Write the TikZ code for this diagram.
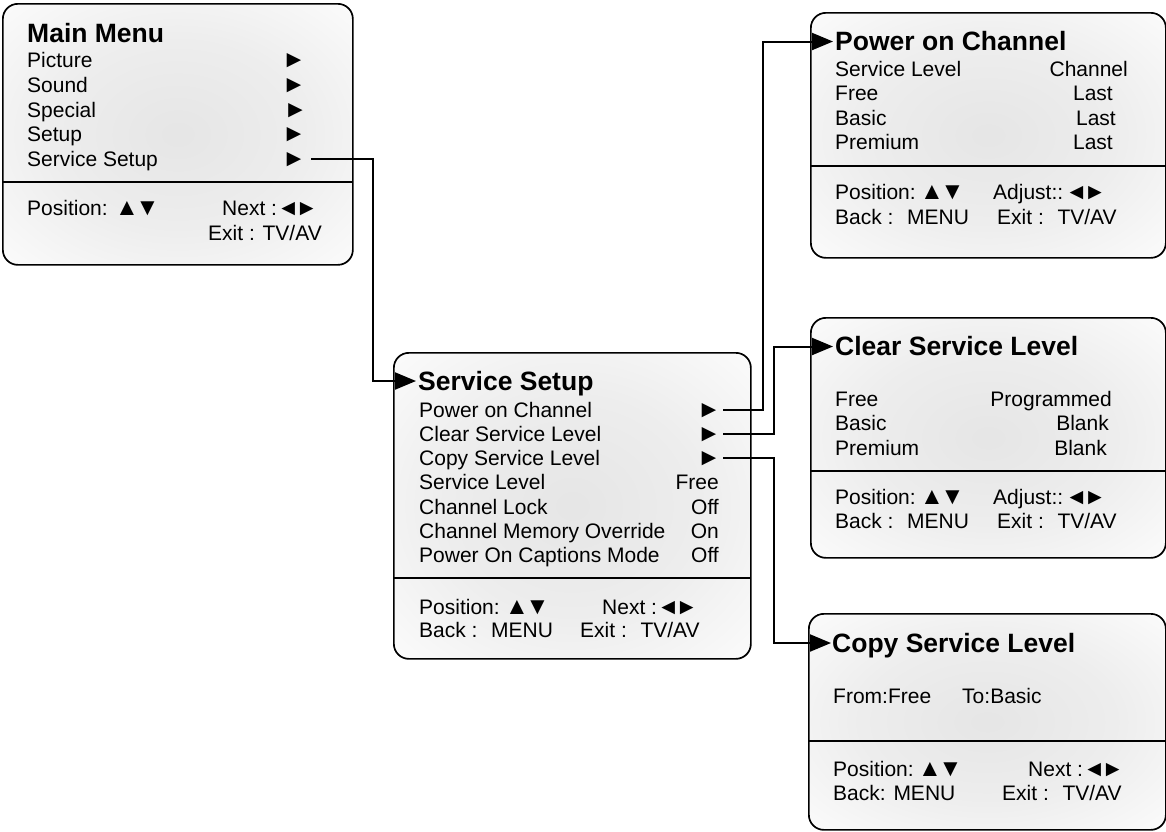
\documentclass[tikz,border=0pt]{standalone}
\usepackage{fontspec}
\setmainfont{Liberation Sans}
\usetikzlibrary{arrows.meta}
\newcommand\mytup{\makebox[20.5pt][c]{\fontsize{24}{24}\selectfont ▲}}
\newcommand\mytdn{\makebox[20.5pt][c]{\fontsize{24}{24}\selectfont ▼}}
\newcommand\mytlf{\makebox[18.5pt][c]{\fontsize{22.5}{24}\selectfont ◄}}
\newcommand\mytrt{\makebox[18.5pt][c]{\fontsize{22.5}{24}\selectfont ►}}
\pgfdeclareradialshading{softglow}{\pgfpoint{0bp}{0bp}}{color(0bp)=(black!10); color(18bp)=(black!7); color(34bp)=(black!2); color(44bp)=(white); color(50bp)=(white)}
\begin{document}
\begin{tikzpicture}[x=1pt,y=-1pt,
 box/.style={draw, line width=1.7pt, rounded corners=15pt, shading=softglow, anchor=north west, inner sep=0},
 sepline/.style={line width=1.7pt},
 txt/.style={font=\fontsize{21}{24}\selectfont, inner sep=0, anchor=base west},
 rtxt/.style={txt, anchor=base east},
 mk/.style={font=\fontsize{24}{24}\selectfont, inner sep=0, anchor=base},
 ttl/.style={font=\fontsize{26.5}{30}\selectfont\bfseries, inner sep=0, anchor=base west},
 conn/.style={line width=2pt, -{Triangle[length=21pt,width=17pt]}}]
\useasboundingbox (0,0) rectangle (1166,831);

% ---------- Main Menu ----------
\node[box, minimum width=350, minimum height=261] (mmbox) at (2,3) {};
\draw[sepline] (2,182) -- (352,182);
\node[ttl] (mmt) at (27,42) {Main Menu};
\node[txt] (mm1) at (27,67.7) {Picture};
\node[txt] (mm2) at (27,92.5) {Sound};
\node[txt] (mm3) at (27,117) {Special};
\node[txt] (mm4) at (27,141.5) {Setup};
\node[txt] (mm5) at (27,166) {Service Setup};
\node[mk] (mma1) at (294,67.7) {►};
\node[mk] (mma2) at (294,92.5) {►};
\node[mk] (mma3) at (295.5,117) {►};
\node[mk] (mma4) at (294,141.5) {►};
\node[mk] (mma5) at (294,166) {►};
\node[txt] (mmf1) at (27,215) {Position:\hspace{9pt}\mytup\mytdn};
\node[txt] (mmf2) at (222,215) {Next :\hspace{2pt}\mytlf\mytrt};
\node[txt] (mmf3) at (208,240) {Exit : TV/AV};

% ---------- Service Setup ----------
\node[box, minimum width=357, minimum height=306] (ssbox) at (393,352) {};
\draw[sepline] (393,578) -- (750,578);
\node[ttl] (sst) at (418,390) {Service Setup};
\node[txt] (ss1) at (419,417) {Power on Channel};
\node[txt] (ss2) at (419,441) {Clear Service Level};
\node[txt] (ss3) at (419,465) {Copy Service Level};
\node[txt] (ss4) at (419,489.5) {Service Level};
\node[txt] (ss5) at (419,514) {Channel Lock};
\node[txt] (ss6) at (419,538) {Channel Memory Override};
\node[txt] (ss7) at (419,562.5) {Power On Captions Mode};
\node[mk] (ssa1) at (709,417) {►};
\node[mk] (ssa2) at (709,441) {►};
\node[mk] (ssa3) at (709,465) {►};
\node[rtxt] (ssv4) at (719,489.5) {Free};
\node[rtxt] (ssv5) at (719,514) {Off};
\node[rtxt] (ssv6) at (719,538) {On};
\node[rtxt] (ssv7) at (719,562.5) {Off};
\node[txt] (ssf1) at (419,614) {Position:\hspace{7pt}\mytup\mytdn};
\node[txt] (ssf2) at (602,614) {Next :\hspace{2pt}\mytlf\mytrt};
\node[txt] (ssf3) at (419,637.5) {Back :~ MENU};
\node[txt] (ssf4) at (580,637.5) {Exit :~ TV/AV};

% ---------- Power on Channel ----------
\node[box, minimum width=355, minimum height=245] (pcbox) at (810,12) {};
\draw[sepline] (810,166) -- (1165,166);
\node[ttl] (pct) at (835,50) {Power on Channel};
\node[txt] (pc1) at (835,76) {Service Level};
\node[txt] (pc2) at (835,100.5) {Free};
\node[txt] (pc3) at (835,125) {Basic};
\node[txt] (pc4) at (835,149.5) {Premium};
\node[rtxt] (pcv1) at (1128,76) {Channel};
\node[rtxt] (pcv2) at (1113,100.5) {Last};
\node[rtxt] (pcv3) at (1116,125) {Last};
\node[rtxt] (pcv4) at (1113,149.5) {Last};
\node[txt] (pcf1) at (835,199.5) {Position:\hspace{6pt}\mytup\mytdn};
\node[txt] (pcf2) at (993,199.5) {Adjust::\hspace{4pt}\mytlf\mytrt};
\node[txt] (pcf3) at (835,224) {Back :~ MENU};
\node[txt] (pcf4) at (997,224) {Exit :~ TV/AV};

% ---------- Clear Service Level ----------
\node[box, minimum width=355, minimum height=240] (clbox) at (810,317) {};
\draw[sepline] (810,471) -- (1165,471);
\node[ttl] (clt) at (835,355) {Clear Service Level};
\node[txt] (cl1) at (835,406) {Free};
\node[txt] (cl2) at (835,430.5) {Basic};
\node[txt] (cl3) at (835,455) {Premium};
\node[rtxt] (clv1) at (1112,406) {Programmed};
\node[rtxt] (clv2) at (1109,430.5) {Blank};
\node[rtxt] (clv3) at (1107,455) {Blank};
\node[txt] (clf1) at (835,504) {Position:\hspace{6pt}\mytup\mytdn};
\node[txt] (clf2) at (993,504) {Adjust::\hspace{4pt}\mytlf\mytrt};
\node[txt] (clf3) at (835,528) {Back :~ MENU};
\node[txt] (clf4) at (997,528) {Exit :~ TV/AV};

% ---------- Copy Service Level ----------
\node[box, minimum width=357, minimum height=216] (cpbox) at (808,613) {};
\draw[sepline] (808,741) -- (1165,741);
\node[ttl] (cpt) at (832,652) {Copy Service Level};
\node[txt] (cp1) at (833,703.5) {From:Free};
\node[txt] (cp2) at (962,703.5) {To:Basic};
\node[txt] (cpf1) at (833,776) {Position:\hspace{6pt}\mytup\mytdn};
\node[txt] (cpf2) at (1028,776) {Next :\hspace{2pt}\mytlf\mytrt};
\node[txt] (cpf3) at (833,800.5) {Back: MENU};
\node[txt] (cpf4) at (1002,800.5) {Exit :~ TV/AV};

% ---------- connectors ----------
\coordinate (j1) at (373,0);
\coordinate (j2) at (763,0);
\coordinate (j3) at (774,0);
\coordinate (s0) at ([yshift=7pt]mma5.base east);
\coordinate (s1) at ([yshift=7pt]ssa1.base east);
\coordinate (s2) at ([yshift=7pt]ssa2.base east);
\coordinate (s3) at ([yshift=7pt]ssa3.base east);
\coordinate (e0) at ([xshift=-2pt,yshift=9pt]sst.base west);
\coordinate (e1) at ([xshift=-2pt,yshift=8.5pt]pct.base west);
\coordinate (e2) at ([xshift=-2pt,yshift=8.5pt]clt.base west);
\coordinate (e3) at ([xshift=-1pt,yshift=9pt]cpt.base west);
\draw[conn, shorten <=5pt] (s0) -| (j1 |- e0) -- (e0);
\draw[conn, shorten <=2pt] (s1) -| (j2 |- e1) -- (e1);
\draw[conn, shorten <=2pt] (s2) -| (j3 |- e2) -- (e2);
\draw[conn, shorten <=2pt] (s3) -| (j3 |- e3) -- (e3);
\end{tikzpicture}
\end{document}
